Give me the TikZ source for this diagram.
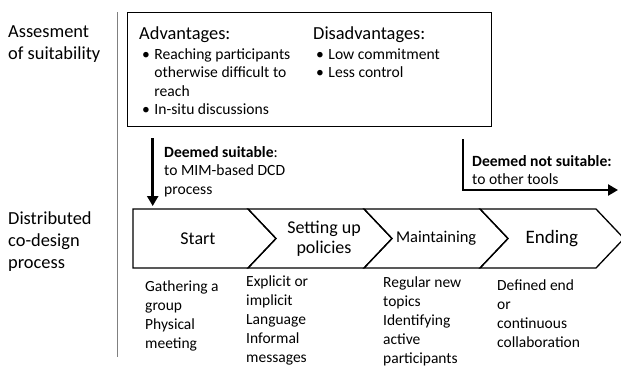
\documentclass[tikz,border=0pt]{standalone}
\usepackage{fontspec}
\setmainfont{Carlito}
\usetikzlibrary{arrows.meta}

\begin{document}
\begin{tikzpicture}[x=1pt,y=-1pt,
		phase/.style={draw, line width=1.3pt, line join=miter},
		phasetext/.style={align=center, inner sep=0pt, font=\fontsize{18}{20}\selectfont},
		notes/.style={anchor=base west, align=left, inner sep=0pt,
			font=\fontsize{15.5}{19}\selectfont},
		side/.style={anchor=base west, align=left, inner sep=0pt,
			font=\fontsize{18.4}{21.5}\selectfont},
		verdict/.style={anchor=base west, align=left, inner sep=0pt,
			font=\fontsize{15.6}{18.5}\selectfont},
		decision/.style={line width=2.6pt, -{Triangle[length=10pt,width=11pt]}}]
		\useasboundingbox (0,0) rectangle (621,367);

		% left column (base = last line)
		\node[side] (assesslabel) at (8,59) {
			Assesment\\of suitability
		};
		\node[side, font=\fontsize{18.4}{22}\selectfont] (dcdlabel) at (8,268) {
			Distributed\\co-design\\process
		};
		\coordinate (sepTop) at (117.5,12);
		\coordinate (sepBot) at (117.5,357);
		\draw[line width=1.5pt, gray] (sepTop) -- (sepBot);

		% suitability box
		\node[draw, line width=1.4pt, anchor=north west, minimum width=364pt,
			minimum height=114pt, inner sep=0pt] (assess) at (127,12) {};
		\node[side] (advhead) at (139,39) {
			Advantages:
		};
		\node[verdict] (advlist) at (142,59) {
			\begin{tabular}[t]{@{}l@{\hspace{4.5pt}}l@{}}
				\textbullet & Reaching participants\\
				& otherwise difficult to\\
				& reach\\
				\textbullet & In-situ discussions
			\end{tabular}
		};
		\node[side] (disadvhead) at (313,39) {
			Disadvantages:
		};
		\node[verdict] (disadvlist) at (316,59) {
			\begin{tabular}[t]{@{}l@{\hspace{4.5pt}}l@{}}
				\textbullet & Low commitment\\
				\textbullet & Less control
			\end{tabular}
		};

		% process chevrons
		\coordinate (startNW) at (133,209);
		\draw[phase] (startNW) -- (248,209) -- (276,238.5) -- (248,268) -- (133,268) -- cycle;
		\draw[phase] (248,209) -- (364,209) -- (392,238.5) -- (364,268) -- (248,268) -- (276,238.5) -- cycle;
		\draw[phase] (364,209) -- (480,209) -- (508,238.5) -- (480,268) -- (364,268) -- (392,238.5) -- cycle;
		\draw[phase] (480,209) -- (596,209) -- (624,238.5) -- (596,268) -- (480,268) -- (508,238.5) -- cycle;
		\node[phasetext] (start) at (200,238.5) {
			Start
		};
		\node[phasetext] (policies) at (324,238.5) {
			Setting up\\policies
		};
		\node[phasetext, font=\fontsize{16.5}{20}\selectfont] (maintain) at (438,238.5) {
			Maintaining
		};
		\node[phasetext, font=\fontsize{19}{20}\selectfont] (ending) at (554,238.5) {
			Ending
		};

		% notes (base = last line)
		\node[notes] (startnotes) at (145,348) {
			Gathering a\\group\\Physical\\meeting
		};
		\node[notes] (policynotes) at (246,362) {
			Explicit or\\implicit\\Language\\Informal\\messages
		};
		\node[notes] (maintainnotes) at (383,363) {
			Regular new\\topics\\Identifying\\active\\participants
		};
		\node[notes] (endnotes) at (497,347) {
			Defined end\\or\\continuous\\collaboration
		};

		% decisions
		\node[verdict] (suitable) at (164,194) {
			\textbf{Deemed suitable}:\\to MIM-based DCD\\process
		};
		\node[verdict] (notsuitable) at (472,184.5) {
			\textbf{Deemed not suitable:}\\to other tools
		};
		\coordinate (suitsrc) at (152.7,138);
		\coordinate (notsrc) at (463,139);
		\coordinate (notdst) at (618,190);
		\draw[decision, shorten >=3pt] (suitsrc) -- (suitsrc |- startNW);
		\draw[decision] (notsrc) |- (notdst);
\end{tikzpicture}
\end{document}
